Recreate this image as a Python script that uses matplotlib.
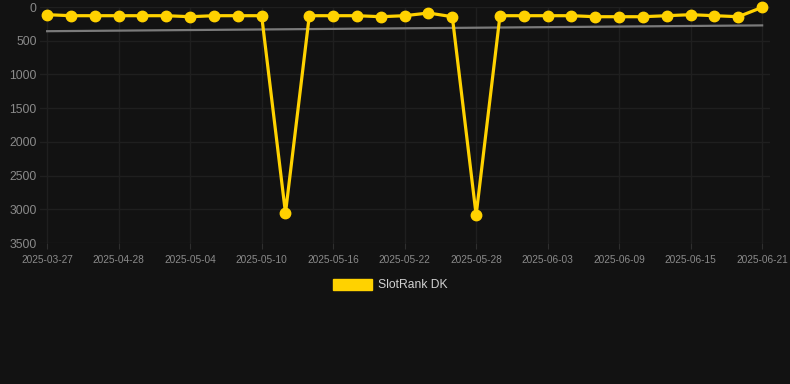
import matplotlib
matplotlib.use("Agg")
import matplotlib.pyplot as plt
from matplotlib.patches import Patch
import numpy as np

dates = ["2025-03-27", "2025-04-24", "2025-04-26", "2025-04-28", "2025-04-30", "2025-05-02",
         "2025-05-04", "2025-05-06", "2025-05-08", "2025-05-10", "2025-05-12", "2025-05-14",
         "2025-05-16", "2025-05-18", "2025-05-20", "2025-05-22", "2025-05-24", "2025-05-26",
         "2025-05-28", "2025-05-30", "2025-06-01", "2025-06-03", "2025-06-05", "2025-06-07",
         "2025-06-09", "2025-06-11", "2025-06-13", "2025-06-15", "2025-06-17", "2025-06-19",
         "2025-06-21"]
rank = [114, 129, 129, 129, 129, 129, 144, 129, 129, 129, 3055, 129, 129, 129, 144, 129,
        89, 144, 3085, 129, 129, 129, 129, 144, 144, 144, 129, 114, 129, 144, 5]
series_name = "SlotRank DK"
y_ticks = [0, 500, 1000, 1500, 2000, 2500, 3000, 3500]

plt.rcParams['font.family'] = ['Liberation Sans', 'DejaVu Sans']
bg = "#121212"
gold = "#FFD200"

fig = plt.figure(figsize=(7.9, 3.84), dpi=100, facecolor=bg)
ax = fig.add_axes([40/790, 1-243/384, 730/790, 236/384], facecolor=bg)

x = np.arange(len(rank))
coef = np.polyfit(x, rank, 1)
trend = np.polyval(coef, x)
ax.plot(x, trend, color="#7a7a7a", lw=1.6, zorder=2)

line, = ax.plot(x, rank, color=gold, lw=2.3, marker="o", ms=7.5, mec=gold, mfc=gold,
                solid_joinstyle="miter", clip_on=False, zorder=3)

ax.set_ylim(3500, 0)
ax.set_xlim(-0.3, len(rank) - 1 + 0.33)
ax.set_yticks(y_ticks)
ax.set_yticklabels([str(v) for v in y_ticks])
ax.set_xticks(x[::3])
ax.set_xticklabels([dates[i] for i in x[::3]])

ax.tick_params(axis="y", length=0, pad=2.5, labelsize=8.8, labelcolor="#8a8a8a")
ax.tick_params(axis="x", length=4, color="#2e2e2e", pad=4.5, labelsize=7.3, labelcolor="#8a8a8a")
for s in ax.spines.values():
    s.set_visible(False)
ax.grid(True, color="#1f1f1f", lw=1)
ax.set_axisbelow(True)

handle = Patch(facecolor=gold, edgecolor=gold)
fig.legend([handle], [series_name], loc="center", bbox_to_anchor=(390/790, 1-285/384),
           frameon=False, handlelength=3.2, handleheight=1.0, handletextpad=0.5,
           fontsize=8.7, labelcolor="#d0d0d0")

fig.savefig("out.png", dpi=100, facecolor=bg)
